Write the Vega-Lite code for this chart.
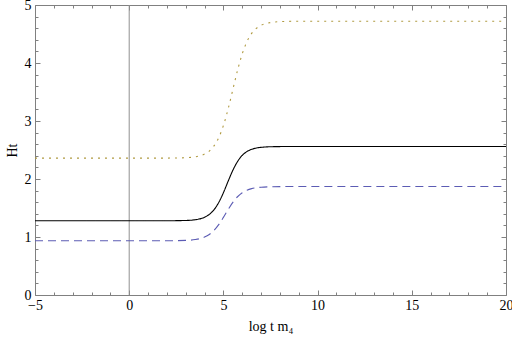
{
  "$schema": "https://vega.github.io/schema/vega-lite/v6.json",
  "autosize": {"type": "none"},
  "padding": {"left": 35, "top": 5, "right": 6, "bottom": 45},
  "width": 471,
  "height": 290,
  "config": {
    "view": {"stroke": "#808080", "strokeWidth": 1},
    "font": "Liberation Serif"
  },
  "resolve": {"axis": {"x": "independent", "y": "independent"}},
  "datasets": {
    "curves": [
      {"x": -5, "y": 1.28, "s": "black"}, {"x": 0, "y": 1.28, "s": "black"}, {"x": 2, "y": 1.2804, "s": "black"},
      {"x": 3, "y": 1.2852, "s": "black"}, {"x": 3.5, "y": 1.298, "s": "black"}, {"x": 4, "y": 1.3407, "s": "black"},
      {"x": 4.25, "y": 1.389, "s": "black"}, {"x": 4.5, "y": 1.4695, "s": "black"}, {"x": 4.75, "y": 1.594, "s": "black"},
      {"x": 5, "y": 1.763, "s": "black"}, {"x": 5.25, "y": 1.96, "s": "black"}, {"x": 5.5, "y": 2.149, "s": "black"},
      {"x": 5.75, "y": 2.301, "s": "black"}, {"x": 6, "y": 2.408, "s": "black"}, {"x": 6.25, "y": 2.473, "s": "black"},
      {"x": 6.5, "y": 2.512, "s": "black"}, {"x": 6.75, "y": 2.534, "s": "black"}, {"x": 7, "y": 2.546, "s": "black"},
      {"x": 7.5, "y": 2.556, "s": "black"}, {"x": 8, "y": 2.559, "s": "black"}, {"x": 9, "y": 2.56, "s": "black"},
      {"x": 20, "y": 2.56, "s": "black"},

      {"x": -5, "y": 0.935, "s": "blue"}, {"x": 0, "y": 0.935, "s": "blue"}, {"x": 2, "y": 0.9357, "s": "blue"},
      {"x": 3, "y": 0.9417, "s": "blue"}, {"x": 3.5, "y": 0.956, "s": "blue"}, {"x": 4, "y": 0.9993, "s": "blue"},
      {"x": 4.25, "y": 1.044, "s": "blue"}, {"x": 4.5, "y": 1.1136, "s": "blue"}, {"x": 4.75, "y": 1.213, "s": "blue"},
      {"x": 5, "y": 1.338, "s": "blue"}, {"x": 5.25, "y": 1.473, "s": "blue"}, {"x": 5.5, "y": 1.597, "s": "blue"},
      {"x": 5.75, "y": 1.694, "s": "blue"}, {"x": 6, "y": 1.763, "s": "blue"}, {"x": 6.25, "y": 1.807, "s": "blue"},
      {"x": 6.5, "y": 1.834, "s": "blue"}, {"x": 6.75, "y": 1.849, "s": "blue"}, {"x": 7, "y": 1.858, "s": "blue"},
      {"x": 7.5, "y": 1.866, "s": "blue"}, {"x": 8, "y": 1.869, "s": "blue"}, {"x": 9, "y": 1.87, "s": "blue"},
      {"x": 20, "y": 1.87, "s": "blue"},

      {"x": -5, "y": 2.36, "s": "orange"}, {"x": 0, "y": 2.36, "s": "orange"}, {"x": 2, "y": 2.3607, "s": "orange"},
      {"x": 3, "y": 2.367, "s": "orange"}, {"x": 3.5, "y": 2.3824, "s": "orange"}, {"x": 4, "y": 2.43, "s": "orange"},
      {"x": 4.25, "y": 2.482, "s": "orange"}, {"x": 4.5, "y": 2.57, "s": "orange"}, {"x": 4.75, "y": 2.711, "s": "orange"},
      {"x": 5, "y": 2.922, "s": "orange"}, {"x": 5.25, "y": 3.2065, "s": "orange"}, {"x": 5.5, "y": 3.54, "s": "orange"},
      {"x": 5.75, "y": 3.873, "s": "orange"}, {"x": 6, "y": 4.158, "s": "orange"}, {"x": 6.25, "y": 4.369, "s": "orange"},
      {"x": 6.5, "y": 4.51, "s": "orange"}, {"x": 6.75, "y": 4.598, "s": "orange"}, {"x": 7, "y": 4.65, "s": "orange"},
      {"x": 7.5, "y": 4.6976, "s": "orange"}, {"x": 8, "y": 4.713, "s": "orange"}, {"x": 8.5, "y": 4.718, "s": "orange"},
      {"x": 9, "y": 4.72, "s": "orange"}, {"x": 20, "y": 4.72, "s": "orange"}
    ],
    "vline": [{"x": 0}]
  },
  "layer": [
    {
      "data": {"name": "vline"},
      "mark": {"type": "rule", "color": "#909090", "strokeWidth": 1},
      "encoding": {
        "x": {
          "field": "x", "type": "quantitative",
          "scale": {"domain": [-5, 20], "nice": false, "zero": false},
          "axis": {
            "orient": "bottom", "values": [-5, 0, 5, 10, 15, 20], "tickSize": -5, "tickColor": "#808080",
            "domain": false, "grid": false, "labelFont": "Liberation Serif", "labelFontSize": 14, "labelColor": "#000",
            "labelPadding": 8, "labelFlush": false,
            "title": "log t m₄", "titleFont": "Liberation Serif", "titleFontSize": 14, "titleFontWeight": "normal",
            "titleColor": "#000", "titlePadding": 7
          }
        }
      }
    },
    {
      "data": {"name": "curves"},
      "mark": {"type": "line", "interpolate": "monotone", "strokeWidth": 1.1},
      "encoding": {
        "x": {"field": "x", "type": "quantitative", "axis": null},
        "y": {
          "field": "y", "type": "quantitative",
          "scale": {"domain": [0, 5], "nice": false},
          "axis": {
            "orient": "left", "values": [0, 1, 2, 3, 4, 5], "tickSize": -5, "tickColor": "#808080",
            "domain": false, "grid": false, "labelFont": "Liberation Serif", "labelFontSize": 14, "labelColor": "#000",
            "labelPadding": 9, "labelFlush": false,
            "title": "Ht", "titleFont": "Liberation Serif", "titleFontSize": 14, "titleFontWeight": "normal",
            "titleColor": "#000", "titlePadding": 5
          }
        },
        "detail": {"field": "s"},
        "color": {
          "field": "s", "type": "nominal",
          "scale": {"domain": ["black", "blue", "orange"], "range": ["#000000", "#5c5cb4", "#b09a40"]},
          "legend": null
        },
        "strokeDash": {
          "field": "s", "type": "nominal",
          "scale": {"domain": ["black", "blue", "orange"], "range": [[1, 0], [8, 5], [2, 5]]},
          "legend": null
        }
      }
    },
    {
      "data": {"name": "vline"},
      "mark": {"type": "rule", "opacity": 0},
      "encoding": {
        "x": {"field": "x", "type": "quantitative",
          "axis": {"orient": "top", "values": [-5, 0, 5, 10, 15, 20], "tickSize": -5, "tickColor": "#808080", "domain": false, "labels": false, "title": null, "grid": false}}
      }
    },
    {
      "data": {"name": "vline"},
      "mark": {"type": "rule", "opacity": 0},
      "encoding": {
        "x": {"field": "x", "type": "quantitative",
          "axis": {"orient": "bottom", "values": [-4, -3, -2, -1, 1, 2, 3, 4, 6, 7, 8, 9, 11, 12, 13, 14, 16, 17, 18, 19], "tickSize": -3, "tickColor": "#808080", "domain": false, "labels": false, "title": null, "grid": false}}
      }
    },
    {
      "data": {"name": "vline"},
      "mark": {"type": "rule", "opacity": 0},
      "encoding": {
        "x": {"field": "x", "type": "quantitative",
          "axis": {"orient": "top", "values": [-4, -3, -2, -1, 1, 2, 3, 4, 6, 7, 8, 9, 11, 12, 13, 14, 16, 17, 18, 19], "tickSize": -3, "tickColor": "#808080", "domain": false, "labels": false, "title": null, "grid": false}}
      }
    },
    {
      "data": {"name": "vline"},
      "mark": {"type": "rule", "opacity": 0},
      "encoding": {
        "y": {"datum": 0, "type": "quantitative",
          "axis": {"orient": "right", "values": [0, 1, 2, 3, 4, 5], "tickSize": -5, "tickColor": "#808080", "domain": false, "labels": false, "title": null, "grid": false}}
      }
    },
    {
      "data": {"name": "vline"},
      "mark": {"type": "rule", "opacity": 0},
      "encoding": {
        "y": {"datum": 0, "type": "quantitative",
          "axis": {"orient": "left", "values": [0.2, 0.4, 0.6, 0.8, 1.2, 1.4, 1.6, 1.8, 2.2, 2.4, 2.6, 2.8, 3.2, 3.4, 3.6, 3.8, 4.2, 4.4, 4.6, 4.8], "tickSize": -3, "tickColor": "#808080", "domain": false, "labels": false, "title": null, "grid": false}}
      }
    },
    {
      "data": {"name": "vline"},
      "mark": {"type": "rule", "opacity": 0},
      "encoding": {
        "y": {"datum": 0, "type": "quantitative",
          "axis": {"orient": "right", "values": [0.2, 0.4, 0.6, 0.8, 1.2, 1.4, 1.6, 1.8, 2.2, 2.4, 2.6, 2.8, 3.2, 3.4, 3.6, 3.8, 4.2, 4.4, 4.6, 4.8], "tickSize": -3, "tickColor": "#808080", "domain": false, "labels": false, "title": null, "grid": false}}
      }
    }
  ]
}
